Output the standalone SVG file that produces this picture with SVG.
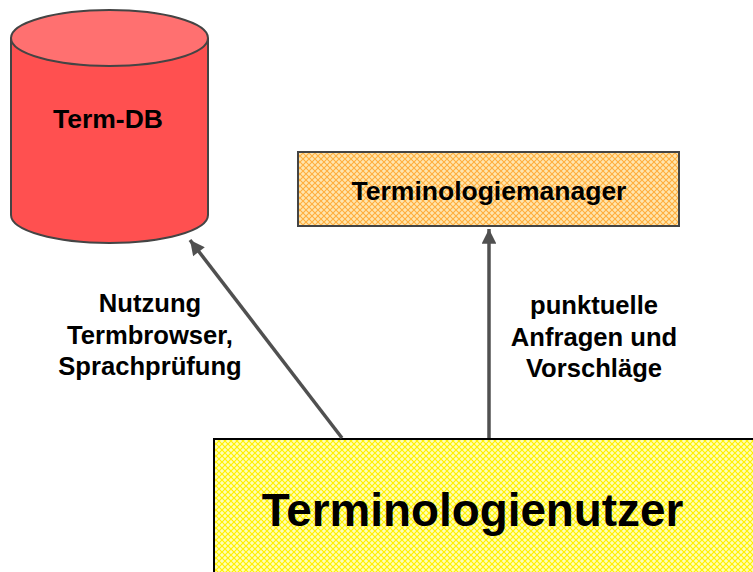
<svg xmlns="http://www.w3.org/2000/svg" width="753" height="572" viewBox="0 0 753 572">
<style>
text{font-family:"Liberation Sans",Arial,sans-serif;font-weight:bold;fill:#000;text-anchor:middle}
.conn{stroke:#505050;stroke-width:3.5;fill:none}
</style>
<defs>
<pattern id="pOrange" width="6" height="6" patternUnits="userSpaceOnUse">
<rect width="6" height="6" fill="#FFE6B0"/>
<path d="M0,0L6,6M6,0L0,6" stroke="#FFAE3C" stroke-width="1.1"/>
</pattern>
<pattern id="pYellow" width="6" height="6" patternUnits="userSpaceOnUse">
<rect width="6" height="6" fill="#FFFFB8"/>
<path d="M0,0L6,6M6,0L0,6" stroke="#FFF000" stroke-width="1.2"/>
</pattern>
<marker id="arr" viewBox="0 0 10 10" refX="10" refY="5" markerWidth="4.6" markerHeight="4.2" orient="auto" markerUnits="strokeWidth">
<path d="M0,0L10,5L0,10z" fill="#505050"/>
</marker>
</defs>
<g id="termdb">
<path d="M11,38 L11,215 A98.5,28 0 0 0 208,215 L208,38" fill="#FF5050" stroke="#444" stroke-width="2"/>
<ellipse cx="109.5" cy="38" rx="98.5" ry="28" fill="#FF7070" stroke="#444" stroke-width="2"/>
<text x="108" y="128" font-size="26.5">Term-DB</text>
</g>
<g id="manager">
<rect x="298" y="152" width="381" height="74" fill="url(#pOrange)" stroke="#444" stroke-width="2"/>
<text x="489" y="200" font-size="26.5">Terminologiemanager</text>
</g>
<g id="nutzer">
<rect x="214" y="439" width="560" height="150" fill="url(#pYellow)" stroke="#000" stroke-width="2"/>
<text x="472.5" y="526" font-size="45.8">Terminologienutzer</text>
</g>
<g id="connectors">
<line class="conn" x1="342" y1="438" x2="190" y2="240" marker-end="url(#arr)"/>
<line class="conn" x1="489" y1="438" x2="489" y2="229" marker-end="url(#arr)"/>
</g>
<g id="labels">
<text font-size="25.6"><tspan x="150" y="312">Nutzung</tspan><tspan x="150" y="344">Termbrowser,</tspan><tspan x="150" y="375">Sprachprüfung</tspan></text>
<text font-size="25.6"><tspan x="594" y="314">punktuelle</tspan><tspan x="594" y="346">Anfragen und</tspan><tspan x="594" y="377">Vorschläge</tspan></text>
</g>
</svg>
